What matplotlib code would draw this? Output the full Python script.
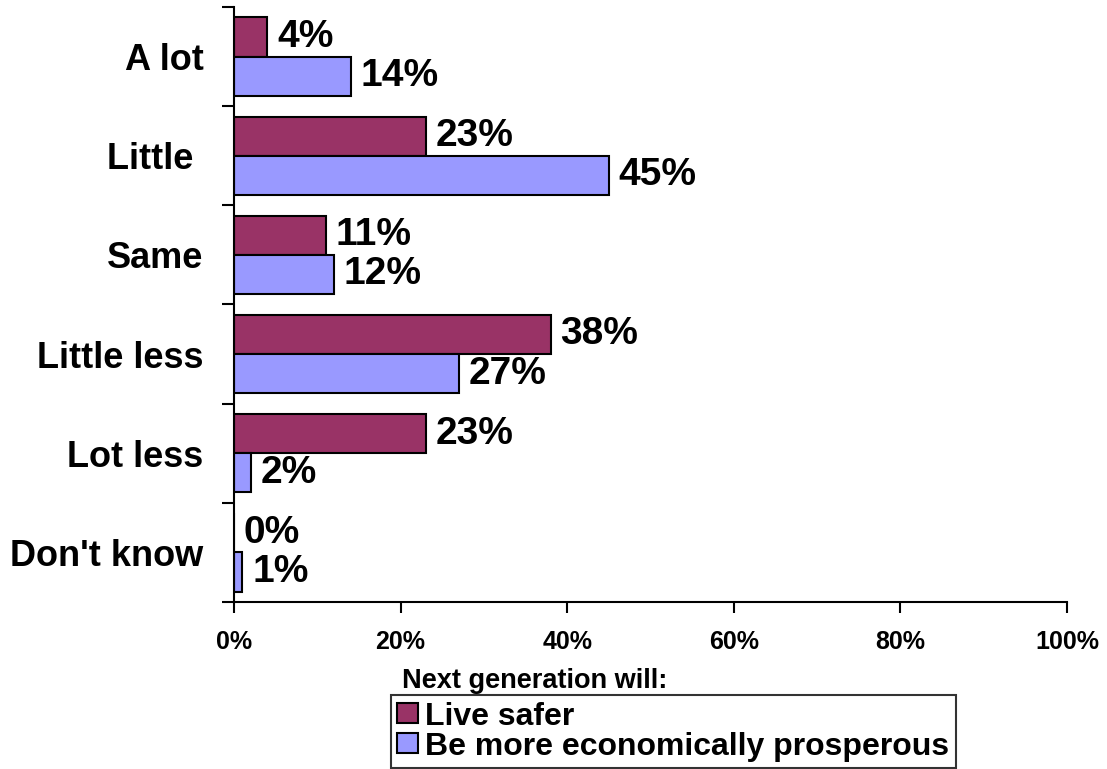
import matplotlib
matplotlib.use("Agg")
import matplotlib.pyplot as plt
import numpy as np

plt.rcParams['font.family'] = ['Liberation Sans', 'DejaVu Sans']
plt.rcParams['font.weight'] = 'bold'

# Data
categories = ['A lot', 'Little ', 'Same', 'Little less', 'Lot less', "Don't know"]
live_safer = [4, 23, 11, 38, 23, 0]
prosperous = [14, 45, 12, 27, 2, 1]
series_names = ['Live safer', 'Be more economically prosperous']
x_ticks = [0, 20, 40, 60, 80, 100]

col_safe = '#993366'
col_pros = '#9999FF'

fig = plt.figure(figsize=(11.07, 7.69), dpi=100, facecolor='w')
ax = fig.add_axes([0.2114, 0.2172, 0.7525, 0.7737])

y = np.arange(len(categories)) + 0.5
h = 0.395
b1 = ax.barh(y - h / 2, live_safer, height=h, color=col_safe, edgecolor='black', linewidth=1.5, label=series_names[0])
b2 = ax.barh(y + h / 2, prosperous, height=h, color=col_pros, edgecolor='black', linewidth=1.5, label=series_names[1])

# value labels
for bars, vals in [(b1, live_safer), (b2, prosperous)]:
    for r, v in zip(bars, vals):
        ax.annotate(str(v) + '%', (r.get_width(), r.get_y() + r.get_height() / 2),
                    xytext=(7, 0), textcoords='offset points', va='center', ha='left',
                    fontsize=28, fontweight='bold')

ax.set_xlim(0, 100)
ax.set_ylim(len(categories), 0)

# Remove axes splines
for s in ['top', 'right']:
    ax.spines[s].set_visible(False)
for s in ['left', 'bottom']:
    ax.spines[s].set_linewidth(1.5)

ax.set_xticks(x_ticks)
ax.set_xticklabels([str(t) + '%' for t in x_ticks], fontsize=18, fontweight='bold')
ax.tick_params(axis='x', direction='out', length=8, width=1.5, pad=12)

# category boundaries as ticks, labels at centres
ax.set_yticks(np.arange(len(categories) + 1))
ax.set_yticklabels([])
ax.set_yticks(y, minor=True)
ax.set_yticklabels(categories, minor=True, fontsize=26, fontweight='bold')
ax.tick_params(axis='y', which='major', direction='out', length=9, width=1.5)
ax.tick_params(axis='y', which='minor', length=0, pad=22)

# Legend with title above the box
fig.text(0.3632, 0.1144, 'Next generation will:', fontsize=19.5, fontweight='bold', va='center', ha='left')
leg = ax.legend(loc='lower left', bbox_to_anchor=(0.3532, 0.0013), bbox_transform=fig.transFigure,
                fontsize=23, frameon=True, fancybox=False, borderpad=0.2, labelspacing=0.0,
                handlelength=0.66, handleheight=0.6, handletextpad=0.22, borderaxespad=0)
leg.get_frame().set_edgecolor('black')
leg.get_frame().set_linewidth(1.5)
for t in leg.get_texts():
    t.set_fontweight('bold')

fig.savefig('out.png', dpi=100, facecolor='w')
